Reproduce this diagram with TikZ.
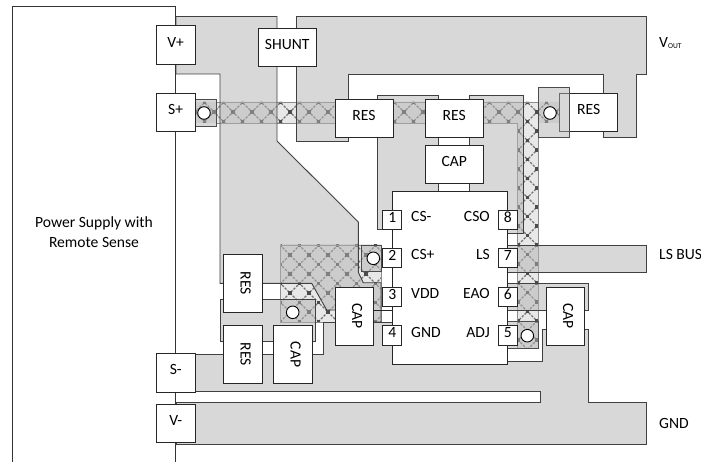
\documentclass[tikz,border=0pt]{standalone}
\usepackage{fontspec}
\setmainfont{Carlito}
\newcommand{\latticefill}{%
	\foreach \n in {-10,...,45} {
		\draw[latticeline] ({196+19*\n},90)--({196+19*\n-270},360);
		\draw[latticeline] ({184+19*\n},90)--({184+19*\n+270},360);
	}
	\foreach \i in {0,...,20} {
		\foreach \j in {0,...,14} {
			\fill[latticeknot] ({190+19*\i-1.8},{96+19*\j-1.8}) rectangle +(3.6,3.6);
			\fill[latticeknot] ({199.5+19*\i-1.8},{105.5+19*\j-1.8}) rectangle +(3.6,3.6);
		}
	}
}
\tikzset{
	plane/.style={draw=black!75,line width=.9pt,fill=black!30,fill opacity=.5},
	viapad/.style={draw=black!70,line width=.9pt,fill=black!30,fill opacity=.5},
	latticeline/.style={draw=black!55,line width=1.3pt,dash pattern=on 2.4pt off 1.4pt},
	latticeknot/.style={fill=black!70},
	hatchtint/.style={fill=black,fill opacity=.09},
	hatchedge/.style={draw=black!45,line width=.8pt},
	via/.style={circle,draw=black,line width=.9pt,fill=white,minimum size=12.6pt,inner sep=0pt},
	part/.style={draw=black!85,line width=.9pt,fill=white,inner sep=0pt,text height=10.3pt,text depth=6pt,font=\fontsize{15.6}{20}\selectfont},
	comp/.style={part,minimum width=58pt,minimum height=38.4pt},
	term/.style={part,minimum width=38.7pt,minimum height=38.7pt},
	pin/.style={part,minimum width=19pt,minimum height=19.3pt},
	lbl/.style={inner sep=0pt,font=\fontsize{15.6}{20}\selectfont},
}
\begin{document}
\begin{tikzpicture}[x=1pt,y=-1pt]
	\useasboundingbox[fill=white] (0,0) rectangle (701,462);
	% sense trace
	\begin{scope}
		\clip (195,102)--(560,102)--(560,123)--(538.3,123)--(538.3,348)--(517.3,348)--(517.3,123)--(195,123)--cycle;
		\fill[hatchtint] (190,90) rectangle (570,360);
		\begin{scope}[shift={(5,-3)}]
			\latticefill
		\end{scope}
	\end{scope}
	\draw[hatchedge] (216,102)--(538.3,102)--(538.3,348)--(517.3,348)--(517.3,123)--(216,123);
	% vdd area
	\begin{scope}
		\clip (280.7,245) rectangle (381,322.3);
		\fill[hatchtint] (270,235) rectangle (390,330);
		\begin{scope}[shift={(5,7)}]
			\latticefill
		\end{scope}
	\end{scope}
	\draw[hatchedge] (280.7,245) rectangle (381,322.3);
	% copper
	\draw[plane] (176,16.5)--(277,16.5)--(277,141)--(358.3,222)--(358.3,272.3)--(363.3,282.7)--(381,282.7)--(381,322)--(373,322)--(373,310)--(326.7,310)--(311.7,283.3)--(220,283.3)--(220,74)--(176,74)--cycle;
	\draw[plane] (296.7,16.5)--(646.7,16.5)--(646.7,74)--(636.7,74)--(636.7,137.3)--(603.7,137.3)--(603.7,74)--(348.3,74)--(348.3,141)--(296.7,141)--cycle;
	\draw[plane] (377.3,95.7)--(438.7,95.7)--(438.7,191)--(392.3,191)--(392.3,229)--(377.3,229)--cycle;
	\draw[plane] (469.3,95.7)--(523.3,95.7)--(523.3,233)--(507.7,233)--(507.7,191)--(469.3,191)--cycle;
	\draw[plane] (220,299)--(315,299)--(315,341)--(220,341)--cycle;
	\draw[plane] (507.7,245)--(646.7,245)--(646.7,272)--(507.7,272)--cycle;
	\draw[plane] (507.7,283.3)--(588.3,283.3)--(588.3,310)--(507.7,310)--cycle;
	\draw[plane] (176,354.3)--(323,354.3)--(323,322)--(392.3,322)--(392.3,361)--(542.3,361)--(542.3,329.3)--(588.3,329.3)--(588.3,402.3)--(646.7,402.3)--(646.7,444.5)--(176,444.5)--(176,402.3)--(540.7,402.3)--(540.7,391)--(176,391)--cycle;
	\draw[black!85,line width=.9pt] (373,310)--(392.3,310);
	% power supply outline
	\draw[black!80,line width=.9pt] (12.5,462)--(12.5,6.7)--(175.7,6.7)--(175.7,462);
	\node[comp] (res out) at (588.7,112.5) {RES};
	% via pads
	\draw[viapad] (195,99) rectangle (216,126);
	\draw[viapad] (361.7,245) rectangle (381,271.7);
	\draw[viapad] (507.7,321.7) rectangle (538,348.3);
	\draw[viapad] (538.3,87.7) rectangle (569,137.3);
	% vias
	\node[via] (via sp) at (204,113) {};
	\node[via] (via out) at (550,113) {};
	\node[via] (via vdd) at (373.3,258.3) {};
	\node[via] (via low) at (292.7,312.3) {};
	\node[via] (via adj) at (527.3,335.7) {};
	% terminals
	\node[term] (vplus) at (175.7,45.2) {V+};
	\node[term] (splus) at (175.7,112.5) {S+};
	\node[term] (sminus) at (175.7,372.7) {S-};
	\node[term] (vminus) at (175.7,423.3) {V-};
	% parts
	\node[comp] (shunt) at (287.2,47.2) {SHUNT};
	\node[comp] (res top a) at (364,118.2) {RES};
	\node[comp] (res top b) at (454.2,118.2) {RES};
	\node[comp] (cap top) at (454.2,164.3) {CAP};
	\node[comp,rotate=-90] (res vdd) at (242.8,283.3) {RES};
	\node[comp,rotate=-90] (res low) at (242.8,354.5) {RES};
	\node[comp,rotate=-90] (cap low) at (292.8,354.5) {CAP};
	\node[comp,rotate=-90] (cap vdd) at (354.2,316.2) {CAP};
	\node[comp,rotate=-90] (cap eao) at (565.2,316.2) {CAP};
	% regulator
	\draw[black!85,line width=.9pt,fill=white] (392.3,191) rectangle (507.7,364.3);
	\node[pin] (pin one) at (392.2,220) {1};
	\node[pin] (pin two) at (392.2,258.3) {2};
	\node[pin] (pin three) at (392.2,297) {3};
	\node[pin] (pin four) at (392.2,335.5) {4};
	\node[pin] (pin eight) at (507.8,220) {8};
	\node[pin] (pin seven) at (507.8,258.3) {7};
	\node[pin] (pin six) at (507.8,297) {6};
	\node[pin] (pin five) at (507.8,335.5) {5};
	\node[lbl,anchor=base west] (lbl cs) at (411,221.7) {CS-};
	\node[lbl,anchor=base west] (lbl csp) at (411,260) {CS+};
	\node[lbl,anchor=base west] (lbl vdd) at (411,298.7) {VDD};
	\node[lbl,anchor=base west] (lbl gnd) at (411,337.2) {GND};
	\node[lbl,anchor=base east] (lbl cso) at (490,221.7) {CSO};
	\node[lbl,anchor=base east] (lbl ls) at (490,260) {LS};
	\node[lbl,anchor=base east] (lbl eao) at (490,298.7) {EAO};
	\node[lbl,anchor=base east] (lbl adj) at (490,337.2) {ADJ};
	% outer labels
	\node[lbl,align=center] (supply) at (94,232) {Power Supply with\\Remote Sense};
	\node[lbl,anchor=base west] (vout) at (659,48) {V\raisebox{-1pt}{\fontsize{7.5}{8}\selectfont OUT}};
	\node[lbl,anchor=base west] (lsbus) at (659,259) {LS BUS};
	\node[lbl,anchor=base west] (gnd) at (659,428) {GND};
\end{tikzpicture}
\end{document}
